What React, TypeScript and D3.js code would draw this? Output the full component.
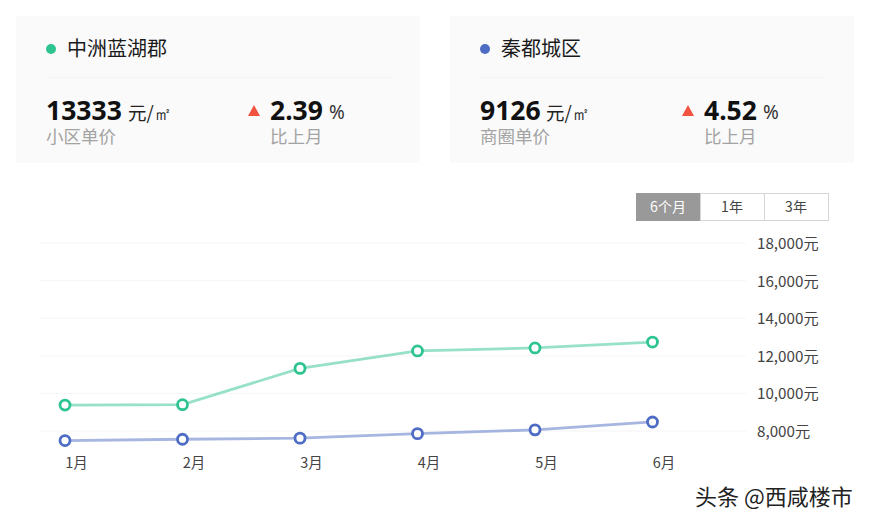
import * as d3 from 'd3'

const months = ['1月', '2月', '3月', '4月', '5月', '6月']
const lanhu = [9380, 9400, 11330, 12260, 12420, 12730]
const qindu = [7490, 7560, 7620, 7860, 8060, 8480]
const yTicks = [8000, 10000, 12000, 14000, 16000, 18000]
const ranges = ['6个月', '1年', '3年']

const W = 869, H = 524
const FONT = '"Noto Sans CJK SC", "Noto Sans", sans-serif'
const GREEN = '#2ec48f', BLUE = '#4f6cc4'

const x = d3.scalePoint<string>().domain(months).range([65, 652.5])
const y = d3.scaleLinear().domain([8000, 18000]).range([431, 243])
const line = d3.line<number>().x((_, i) => x(months[i]) as number).y((d) => y(d))
const fmt = d3.format(',')

function Card({ left, color, name, price, priceLabel, pct, unitX }: {
  left: number; color: string; name: string; price: string; priceLabel: string; pct: string; unitX: number
}) {
  return (
    <g transform={`translate(${left},0)`}>
      <rect x={16} y={16} width={404} height={147} fill="#fafafa" />
      <circle cx={51} cy={49} r={5} fill={color} />
      <text x={67} y={55.5} fontSize={20} fill="#1a1a1a">{name}</text>
      <line x1={46} x2={392} y1={77.5} y2={77.5} stroke="#f3f3f3" />
      <text x={46} y={120} fontSize={26.5} fontWeight={700} fill="#111" fontFamily='"Noto Sans", sans-serif'>{price}</text>
      <text x={unitX} y={120} fontSize={18.5} fill="#222">元/<tspan fontSize={18} fontFamily='"Liberation Serif", serif'>㎡</tspan></text>
      <text x={46} y={143} fontSize={17.5} fill="#a3a3a3">{priceLabel}</text>
      <path d="M248,116 L254,105 L260,116 Z" fill="#f05340" />
      <text x={270} y={120} fontSize={26.5} fontWeight={700} fill="#111" fontFamily='"Noto Sans", sans-serif'>{pct}</text>
      <text x={329} y={119} fontSize={19} fill="#333" fontFamily='"Noto Sans", sans-serif'>%</text>
      <text x={270} y={143} fontSize={17.5} fill="#a3a3a3">比上月</text>
    </g>
  )
}

function Series({ values, color }: { values: number[]; color: string }) {
  return (
    <g>
      <path d={line(values) ?? ''} fill="none" stroke={color} strokeOpacity={0.5} strokeWidth={2.8} />
      {values.map((v, i) => (
        <circle key={i} cx={x(months[i])} cy={y(v)} r={5} fill="#fff" stroke={color} strokeWidth={2.8} />
      ))}
    </g>
  )
}

export default function App() {
  return (
    <svg width={W} height={H} viewBox={`0 0 ${W} ${H}`} fontFamily={FONT}
      style={{ position: 'absolute', left: 0, top: 0, background: '#fff' }}>
      <Card left={0} color={GREEN} name="中洲蓝湖郡" price="13333" priceLabel="小区单价" pct="2.39" unitX={128} />
      <Card left={434} color={BLUE} name="秦都城区" price="9126" priceLabel="商圈单价" pct="4.52" unitX={112} />

      {ranges.map((r, i) => (
        <g key={r} transform={`translate(${636 + i * 64},193)`}>
          <rect x={0.5} y={0.5} width={64} height={27} fill={i === 0 ? '#999' : '#fff'} stroke={i === 0 ? '#999' : '#d6d6d6'} />
          <text x={32} y={19} textAnchor="middle" fontSize={14} fill={i === 0 ? '#fff' : '#444'}>{r}</text>
        </g>
      ))}

      {yTicks.map((t) => (
        <g key={t}>
          <line x1={40} x2={746} y1={y(t)} y2={y(t)} stroke="#f5f5f5" />
          <text x={757} y={y(t) + 6} fontSize={15.2} fill="#444">{fmt(t)}元</text>
        </g>
      ))}

      <Series values={lanhu} color={GREEN} />
      <Series values={qindu} color={BLUE} />

      {months.map((m) => (
        <text key={m} x={(x(m) as number) + 11.5} y={468} textAnchor="middle" fontSize={14.5} fill="#444">{m}</text>
      ))}

      <text x={695} y={505} fontSize={22} fill="#222">头条 @西咸楼市</text>
    </svg>
  )
}
